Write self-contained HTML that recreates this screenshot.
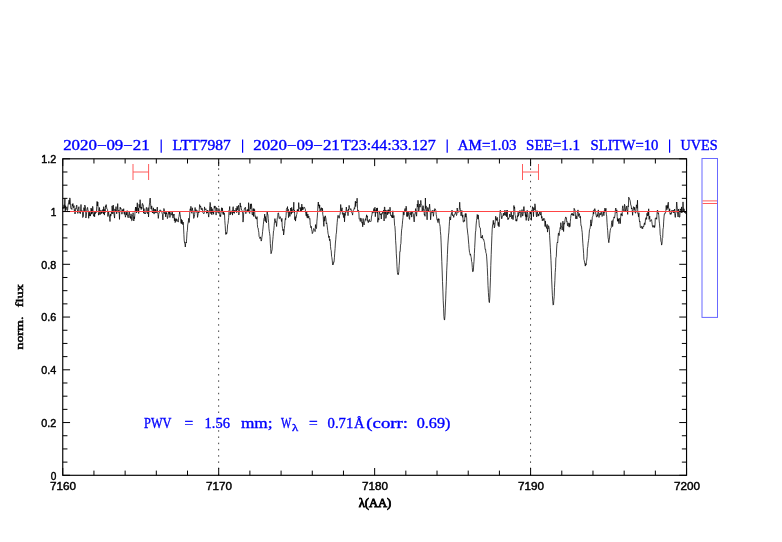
<!DOCTYPE html>
<html><head><meta charset="utf-8"><title>spectrum</title>
<style>
html,body{margin:0;padding:0;background:#fff;}
svg{display:block;font-family:"Liberation Serif",serif;will-change:transform;}
</style></head><body>
<svg width="782" height="542" viewBox="0 0 782 542">

<g stroke="#0000ff" stroke-width="0.35">
<text x="63.2" y="150.1" font-size="13.7" fill="#0000ff" textLength="86.5" lengthAdjust="spacingAndGlyphs" >2020−09−21</text>
<text x="172.6" y="150.1" font-size="13.7" fill="#0000ff" textLength="58.1" lengthAdjust="spacingAndGlyphs" >LTT7987</text>
<text x="253.2" y="150.1" font-size="13.7" fill="#0000ff" textLength="86.6" lengthAdjust="spacingAndGlyphs" >2020−09−21</text>
<text x="341.0" y="150.1" font-size="13.7" fill="#0000ff" textLength="94.8" lengthAdjust="spacingAndGlyphs" >T23:44:33.127</text>
<text x="457.8" y="150.1" font-size="13.7" fill="#0000ff" textLength="58.7" lengthAdjust="spacingAndGlyphs" >AM=1.03</text>
<text x="526.1" y="150.1" font-size="13.7" fill="#0000ff" textLength="53.8" lengthAdjust="spacingAndGlyphs" >SEE=1.1</text>
<text x="590.5" y="150.1" font-size="13.7" fill="#0000ff" textLength="67.9" lengthAdjust="spacingAndGlyphs" >SLITW=10</text>
<text x="680.5" y="150.1" font-size="13.7" fill="#0000ff" textLength="37.2" lengthAdjust="spacingAndGlyphs" >UVES</text>
</g>
<line x1="161.2" x2="161.2" y1="139.6" y2="152.8" stroke="#0000ff" stroke-width="1.2"/>
<line x1="242.6" x2="242.6" y1="139.6" y2="152.8" stroke="#0000ff" stroke-width="1.2"/>
<line x1="447.2" x2="447.2" y1="139.6" y2="152.8" stroke="#0000ff" stroke-width="1.2"/>
<line x1="669.6" x2="669.6" y1="139.6" y2="152.8" stroke="#0000ff" stroke-width="1.2"/>
<line x1="218.65" x2="218.65" y1="162.1" y2="475.3" stroke="#222" stroke-width="0.85" stroke-dasharray="1.5 4.735"/>
<line x1="530.55" x2="530.55" y1="162.1" y2="475.3" stroke="#222" stroke-width="0.85" stroke-dasharray="1.5 4.735"/>
<polyline points="62.8,209.0 63.1,207.1 63.5,208.4 63.8,205.4 64.2,204.7 64.5,208.3 64.9,198.5 65.2,211.9 65.6,205.7 65.9,209.9 66.3,207.7 66.6,207.7 67.0,206.8 67.3,210.6 67.7,209.7 68.0,205.9 68.4,203.2 68.7,203.3 69.1,200.1 69.4,204.3 69.8,197.9 70.1,199.1 70.5,205.2 70.8,208.1 71.2,209.0 71.5,208.6 71.9,209.5 72.2,204.3 72.6,205.9 72.9,203.5 73.3,207.1 73.6,207.7 74.0,205.6 74.3,210.7 74.7,209.7 75.0,214.0 75.4,211.5 75.7,208.4 76.1,208.9 76.4,206.0 76.8,205.1 77.1,209.1 77.5,210.0 77.8,213.4 78.2,209.6 78.5,208.9 78.9,206.7 79.2,212.4 79.6,212.3 79.9,211.4 80.3,213.7 80.6,211.1 81.0,204.5 81.3,211.6 81.7,211.1 82.0,210.5 82.4,211.3 82.7,217.5 83.1,217.1 83.4,216.3 83.8,207.7 84.1,207.9 84.5,210.8 84.8,205.0 85.2,206.8 85.5,206.8 85.9,218.0 86.2,216.1 86.6,212.4 86.9,210.0 87.3,207.9 87.6,207.4 88.0,210.8 88.3,210.8 88.7,218.3 89.0,214.6 89.4,212.1 89.7,216.0 90.1,213.4 90.4,216.1 90.8,213.3 91.1,208.0 91.5,214.1 91.8,209.1 92.2,213.5 92.5,206.5 92.9,206.5 93.2,213.6 93.6,216.1 93.9,216.2 94.3,212.6 94.6,216.8 95.0,211.2 95.3,213.7 95.7,212.5 96.0,211.8 96.4,212.4 96.7,206.6 97.1,201.4 97.4,206.1 97.8,202.0 98.1,206.5 98.5,215.2 98.8,213.6 99.2,214.4 99.5,207.5 99.9,213.8 100.2,214.6 100.6,212.7 100.9,210.1 101.3,213.7 101.6,211.9 102.0,213.0 102.3,210.5 102.7,212.2 103.0,209.3 103.4,214.0 103.7,206.7 104.1,211.1 104.4,215.1 104.8,209.4 105.1,212.6 105.5,205.8 105.8,207.0 106.2,204.6 106.5,206.7 106.9,209.0 107.2,209.2 107.6,209.5 107.9,216.5 108.3,212.9 108.6,211.4 109.0,215.5 109.3,215.5 109.7,218.6 110.0,221.5 110.4,214.0 110.7,216.2 111.1,214.9 111.4,212.3 111.8,213.5 112.1,205.9 112.5,210.0 112.8,213.9 113.2,205.0 113.5,209.0 113.9,213.3 114.2,215.7 114.6,218.1 114.9,208.9 115.3,210.9 115.6,211.6 116.0,206.6 116.3,209.7 116.7,213.8 117.0,211.4 117.4,209.2 117.7,203.6 118.1,211.1 118.4,212.3 118.8,210.2 119.1,211.8 119.5,219.4 119.8,210.6 120.2,207.1 120.5,208.8 120.9,208.1 121.2,210.1 121.6,212.2 121.9,214.2 122.3,212.7 122.6,209.5 123.0,211.3 123.3,211.6 123.7,208.7 124.0,213.1 124.4,214.4 124.7,211.7 125.1,214.3 125.4,217.2 125.8,215.7 126.1,212.3 126.5,215.0 126.8,211.9 127.2,210.6 127.5,216.1 127.9,217.0 128.2,217.8 128.6,214.9 128.9,213.3 129.3,211.0 129.6,215.1 130.0,217.8 130.3,216.4 130.7,218.6 131.0,213.8 131.4,216.4 131.7,220.7 132.1,220.4 132.4,216.1 132.8,214.7 133.1,212.7 133.5,218.1 133.8,221.0 134.2,216.7 134.5,218.8 134.9,213.8 135.2,210.5 135.6,207.0 135.9,211.5 136.3,207.3 136.6,213.0 137.0,207.2 137.3,202.8 137.7,210.1 138.0,211.8 138.4,208.2 138.7,213.5 139.1,204.3 139.4,205.9 139.8,207.6 140.1,199.7 140.5,208.0 140.8,207.7 141.2,209.6 141.5,207.0 141.9,208.5 142.2,203.6 142.6,203.5 142.9,205.5 143.3,205.2 143.6,213.2 144.0,208.6 144.3,212.2 144.7,213.9 145.0,213.4 145.4,214.0 145.7,213.2 146.1,208.9 146.4,207.4 146.8,209.1 147.1,212.9 147.5,213.6 147.8,210.9 148.2,207.6 148.5,217.0 148.9,211.7 149.2,206.1 149.6,202.9 149.9,198.7 150.3,198.0 150.6,203.8 151.0,209.0 151.3,209.2 151.7,205.9 152.0,208.7 152.4,212.9 152.7,211.8 153.1,212.8 153.4,207.8 153.8,212.8 154.1,214.1 154.5,211.6 154.8,209.0 155.2,212.5 155.5,209.5 155.9,213.1 156.2,210.9 156.6,212.4 156.9,209.5 157.3,207.1 157.6,212.2 158.0,214.6 158.3,218.4 158.7,214.7 159.0,212.7 159.4,212.6 159.7,210.7 160.1,209.8 160.4,211.9 160.8,210.7 161.1,210.7 161.5,211.4 161.8,212.3 162.2,213.7 162.5,214.7 162.9,219.9 163.2,213.8 163.6,211.1 163.9,208.5 164.3,209.6 164.6,213.7 165.0,213.8 165.3,212.7 165.7,216.9 166.0,211.0 166.4,213.9 166.7,212.9 167.1,215.6 167.4,218.6 167.8,217.5 168.1,215.3 168.5,212.0 168.8,211.5 169.2,214.3 169.5,212.0 169.9,217.5 170.2,215.8 170.6,215.2 170.9,212.4 171.3,214.6 171.6,214.5 172.0,215.3 172.3,212.1 172.7,215.8 173.0,218.1 173.4,214.5 173.7,215.3 174.1,214.1 174.4,220.8 174.8,217.9 175.1,222.6 175.5,222.0 175.8,218.9 176.2,221.3 176.5,218.8 176.9,219.0 177.2,220.1 177.6,221.0 177.9,221.7 178.3,222.1 178.6,217.7 179.0,216.7 179.3,214.3 179.7,212.0 180.0,214.1 180.4,216.2 180.7,219.0 181.1,223.4 181.4,219.3 181.8,223.7 182.1,220.2 182.5,223.5 182.8,224.6 183.2,222.1 183.5,225.9 183.9,234.6 184.2,240.2 184.6,243.2 184.9,243.3 185.3,247.0 185.6,243.9 186.0,242.0 186.3,243.0 186.7,238.1 187.0,232.4 187.4,230.5 187.7,224.9 188.1,223.0 188.4,220.8 188.8,218.2 189.1,222.5 189.5,218.7 189.8,212.0 190.2,208.8 190.5,210.4 190.9,206.3 191.2,208.3 191.6,212.8 191.9,213.3 192.3,207.8 192.6,210.2 193.0,210.6 193.3,212.9 193.7,218.4 194.0,217.6 194.4,216.6 194.7,214.3 195.1,207.5 195.4,211.9 195.8,212.0 196.1,209.6 196.5,212.3 196.8,211.7 197.2,210.6 197.5,217.4 197.9,215.3 198.2,213.6 198.6,211.4 198.9,212.8 199.3,209.4 199.6,204.6 200.0,205.9 200.3,207.1 200.7,206.2 201.0,209.0 201.4,209.8 201.7,208.1 202.1,208.1 202.4,208.9 202.8,212.5 203.1,212.8 203.5,213.4 203.8,213.9 204.2,213.0 204.5,206.9 204.9,209.1 205.2,209.8 205.6,209.3 205.9,208.7 206.3,210.4 206.6,213.3 207.0,211.1 207.3,213.0 207.7,210.0 208.0,211.4 208.4,214.7 208.7,217.1 209.1,213.1 209.4,211.6 209.8,205.3 210.1,202.4 210.5,203.8 210.8,213.6 211.2,207.0 211.5,213.0 211.9,214.8 212.2,208.7 212.6,212.3 212.9,213.0 213.3,211.3 213.6,214.3 214.0,209.6 214.3,205.9 214.7,208.2 215.0,206.5 215.4,206.4 215.7,207.6 216.1,215.1 216.4,207.6 216.8,208.7 217.1,208.2 217.5,211.8 217.8,212.5 218.2,212.7 218.5,210.1 218.9,208.5 219.2,209.2 219.6,211.5 219.9,216.4 220.3,214.9 220.6,216.7 221.0,212.5 221.3,210.0 221.7,207.7 222.0,212.3 222.4,208.2 222.7,211.3 223.1,214.4 223.4,211.5 223.8,214.5 224.1,212.8 224.5,213.7 224.8,220.5 225.2,225.6 225.5,231.2 225.9,234.5 226.2,232.5 226.6,233.9 226.9,233.2 227.3,229.9 227.6,224.8 228.0,223.6 228.3,220.8 228.7,217.4 229.0,210.2 229.4,209.7 229.7,206.5 230.1,215.0 230.4,212.2 230.8,213.6 231.1,212.8 231.5,212.9 231.8,212.7 232.2,210.5 232.5,215.1 232.9,207.9 233.2,206.7 233.6,212.8 233.9,210.9 234.3,213.4 234.6,210.3 235.0,211.4 235.3,210.5 235.7,210.5 236.0,208.2 236.4,209.3 236.7,212.7 237.1,206.2 237.4,209.8 237.8,207.4 238.1,207.1 238.5,205.3 238.8,215.0 239.2,212.5 239.5,211.5 239.9,207.3 240.2,202.9 240.6,206.9 240.9,205.9 241.3,209.0 241.6,210.0 242.0,210.2 242.3,211.5 242.7,213.9 243.0,222.1 243.4,218.9 243.7,212.5 244.1,210.5 244.4,208.5 244.8,208.8 245.1,207.6 245.5,207.2 245.8,213.7 246.2,211.3 246.5,211.3 246.9,211.3 247.2,209.7 247.6,212.1 247.9,209.3 248.3,211.3 248.6,202.7 249.0,211.4 249.3,212.6 249.7,213.5 250.0,208.3 250.4,203.9 250.7,209.0 251.1,206.2 251.4,203.8 251.8,208.3 252.1,214.2 252.5,215.1 252.8,213.4 253.2,208.7 253.5,216.4 253.9,208.6 254.2,211.9 254.6,209.5 254.9,216.3 255.3,215.8 255.6,218.4 256.0,217.6 256.3,218.0 256.7,219.2 257.0,216.6 257.4,224.6 257.7,227.6 258.1,227.9 258.4,230.2 258.8,232.3 259.1,236.4 259.5,237.4 259.8,238.5 260.2,238.1 260.5,236.9 260.9,239.2 261.2,241.1 261.6,239.8 261.9,237.2 262.3,234.9 262.6,231.6 263.0,228.0 263.3,224.8 263.7,221.1 264.0,218.4 264.4,217.9 264.7,214.1 265.1,221.1 265.4,216.5 265.8,221.6 266.1,221.1 266.5,222.9 266.8,217.4 267.2,211.6 267.5,214.4 267.9,214.3 268.2,218.3 268.6,222.6 268.9,228.2 269.3,231.5 269.6,233.3 270.0,236.4 270.3,243.4 270.7,248.7 271.0,253.7 271.4,252.9 271.7,251.2 272.1,249.8 272.4,244.0 272.8,239.8 273.1,236.6 273.5,230.9 273.8,230.4 274.2,225.4 274.5,221.4 274.9,218.6 275.2,220.0 275.6,222.4 275.9,221.4 276.3,223.5 276.6,226.5 277.0,221.4 277.3,217.7 277.7,217.4 278.0,213.2 278.4,212.8 278.7,214.1 279.1,218.5 279.4,218.7 279.8,217.6 280.1,216.6 280.5,218.1 280.8,218.7 281.2,219.4 281.5,221.5 281.9,218.4 282.2,226.0 282.6,228.7 282.9,230.6 283.3,229.3 283.6,235.0 284.0,232.5 284.3,228.3 284.7,225.6 285.0,221.1 285.4,218.4 285.7,219.6 286.1,215.3 286.4,209.4 286.8,208.5 287.1,209.0 287.5,206.6 287.8,212.3 288.2,209.2 288.5,217.6 288.9,215.9 289.2,211.4 289.6,213.9 289.9,216.4 290.3,212.3 290.6,208.0 291.0,209.6 291.3,214.2 291.7,207.4 292.0,213.0 292.4,211.5 292.7,210.2 293.1,209.3 293.4,210.2 293.8,202.2 294.1,212.6 294.5,210.2 294.8,219.7 295.2,216.6 295.5,221.1 295.9,217.4 296.2,217.7 296.6,214.6 296.9,214.2 297.3,209.6 297.6,211.3 298.0,209.4 298.3,211.3 298.7,202.6 299.0,207.1 299.4,207.6 299.7,208.5 300.1,207.8 300.4,211.3 300.8,207.5 301.1,207.3 301.5,210.8 301.8,204.1 302.2,210.1 302.5,207.0 302.9,209.7 303.2,209.4 303.6,209.1 303.9,207.0 304.3,207.3 304.6,207.4 305.0,208.6 305.3,209.1 305.7,213.3 306.0,215.8 306.4,216.1 306.7,212.0 307.1,217.4 307.4,218.1 307.8,214.0 308.1,215.8 308.5,217.7 308.8,216.1 309.2,218.9 309.5,219.1 309.9,218.6 310.2,224.4 310.6,225.8 310.9,227.7 311.3,226.4 311.6,229.5 312.0,231.2 312.3,233.6 312.7,232.9 313.0,231.9 313.4,229.6 313.7,228.5 314.1,229.4 314.4,230.0 314.8,230.2 315.1,231.6 315.5,224.6 315.8,227.8 316.2,228.3 316.5,228.5 316.9,221.2 317.2,218.1 317.6,212.7 317.9,206.0 318.3,202.0 318.6,206.1 319.0,204.5 319.3,208.3 319.7,205.1 320.0,212.0 320.4,209.7 320.7,208.7 321.1,209.5 321.4,207.7 321.8,210.0 322.1,211.4 322.5,208.3 322.8,214.8 323.2,216.2 323.5,222.3 323.9,226.4 324.2,216.7 324.6,221.0 324.9,221.2 325.3,215.8 325.6,217.1 326.0,218.9 326.3,223.8 326.7,222.8 327.0,224.6 327.4,228.0 327.7,230.4 328.1,233.9 328.4,234.8 328.8,237.6 329.1,236.0 329.5,240.6 329.8,239.1 330.2,240.9 330.5,246.3 330.9,249.8 331.2,250.5 331.6,256.5 331.9,257.7 332.3,260.9 332.6,264.9 333.0,264.3 333.3,264.6 333.7,262.0 334.0,262.3 334.4,257.8 334.7,253.2 335.1,248.4 335.4,243.0 335.8,239.2 336.1,234.6 336.5,232.1 336.8,226.9 337.2,222.4 337.5,218.6 337.9,215.4 338.2,215.4 338.6,217.1 338.9,218.3 339.3,218.1 339.6,215.3 340.0,214.3 340.3,212.7 340.7,204.5 341.0,208.4 341.4,211.0 341.7,209.5 342.1,207.8 342.4,213.8 342.8,214.5 343.1,212.8 343.5,217.3 343.8,217.7 344.2,212.8 344.5,221.8 344.9,214.3 345.2,215.4 345.6,212.1 345.9,212.3 346.3,207.0 346.6,209.2 347.0,212.2 347.3,210.8 347.7,210.6 348.0,215.7 348.4,209.1 348.7,210.2 349.1,205.4 349.4,207.4 349.8,208.6 350.1,209.6 350.5,209.7 350.8,208.6 351.2,209.5 351.5,212.3 351.9,212.9 352.2,213.4 352.6,215.1 352.9,212.2 353.3,210.3 353.6,209.8 354.0,209.8 354.3,207.7 354.7,208.7 355.0,205.3 355.4,201.2 355.7,206.6 356.1,201.9 356.4,202.6 356.8,203.0 357.1,198.2 357.5,208.3 357.8,211.9 358.2,210.2 358.5,210.6 358.9,213.2 359.2,219.2 359.6,218.9 359.9,219.3 360.3,221.5 360.6,218.1 361.0,218.0 361.3,218.9 361.7,222.2 362.0,223.2 362.4,222.2 362.7,226.8 363.1,218.5 363.4,222.3 363.8,223.9 364.1,225.0 364.5,222.3 364.8,221.4 365.2,219.6 365.5,218.7 365.9,220.4 366.2,217.4 366.6,214.8 366.9,217.4 367.3,215.9 367.6,221.2 368.0,220.6 368.3,222.7 368.7,220.7 369.0,220.4 369.4,219.4 369.7,221.7 370.1,221.2 370.4,221.5 370.8,221.6 371.1,221.3 371.5,216.1 371.8,216.1 372.2,212.6 372.5,211.3 372.9,213.2 373.2,212.6 373.6,209.8 373.9,208.5 374.3,212.4 374.6,208.6 375.0,207.2 375.3,216.7 375.7,211.4 376.0,209.8 376.4,211.9 376.7,208.1 377.1,213.2 377.4,207.9 377.8,222.3 378.1,219.0 378.5,217.9 378.8,220.1 379.2,210.9 379.5,211.9 379.9,214.1 380.2,214.6 380.6,215.0 380.9,213.7 381.3,219.0 381.6,213.5 382.0,213.9 382.3,214.1 382.7,211.6 383.0,212.5 383.4,212.0 383.7,210.1 384.1,221.0 384.4,207.1 384.8,207.0 385.1,213.9 385.5,210.3 385.8,218.4 386.2,217.0 386.5,214.2 386.9,210.2 387.2,209.9 387.6,214.8 387.9,212.6 388.3,213.1 388.6,209.7 389.0,213.6 389.3,210.4 389.7,212.1 390.0,207.2 390.4,210.6 390.7,215.8 391.1,215.3 391.4,215.1 391.8,217.4 392.1,215.5 392.5,218.0 392.8,210.8 393.2,217.2 393.5,217.7 393.9,215.5 394.2,218.7 394.6,225.6 394.9,226.2 395.3,232.2 395.6,240.3 396.0,245.9 396.3,253.8 396.7,259.2 397.0,266.7 397.4,272.3 397.7,274.3 398.1,273.7 398.4,274.6 398.8,271.5 399.1,265.5 399.5,261.0 399.8,251.6 400.2,251.6 400.5,245.1 400.9,243.6 401.2,236.6 401.6,230.1 401.9,228.3 402.3,224.7 402.6,220.8 403.0,217.8 403.3,211.9 403.7,214.5 404.0,215.1 404.4,212.3 404.7,209.6 405.1,208.5 405.4,210.8 405.8,209.5 406.1,206.2 406.5,207.7 406.8,216.5 407.2,212.3 407.5,216.5 407.9,214.1 408.2,211.4 408.6,215.3 408.9,215.2 409.3,218.9 409.6,219.4 410.0,212.5 410.3,214.6 410.7,214.5 411.0,211.4 411.4,211.4 411.7,217.1 412.1,212.2 412.4,212.5 412.8,212.3 413.1,213.7 413.5,214.2 413.8,219.3 414.2,221.9 414.5,218.1 414.9,213.7 415.2,213.8 415.6,208.6 415.9,210.6 416.3,214.9 416.6,216.2 417.0,209.6 417.3,204.0 417.7,206.9 418.0,200.3 418.4,205.1 418.7,211.1 419.1,209.8 419.4,205.4 419.8,204.0 420.1,207.2 420.5,202.7 420.8,200.4 421.2,203.6 421.5,204.5 421.9,204.9 422.2,212.0 422.6,207.9 422.9,206.3 423.3,205.8 423.6,210.3 424.0,209.6 424.3,215.0 424.7,214.4 425.0,216.3 425.4,198.0 425.7,208.5 426.1,205.9 426.4,209.0 426.8,214.2 427.1,219.8 427.5,209.1 427.8,207.4 428.2,209.8 428.5,211.0 428.9,208.3 429.2,208.6 429.6,204.1 429.9,208.2 430.3,212.6 430.6,219.8 431.0,215.5 431.3,211.6 431.7,210.8 432.0,212.8 432.4,212.7 432.7,210.3 433.1,213.2 433.4,216.3 433.8,213.3 434.1,209.9 434.5,210.8 434.8,208.6 435.2,209.7 435.5,209.4 435.9,210.8 436.2,214.6 436.6,216.8 436.9,219.5 437.3,220.3 437.6,219.4 438.0,222.6 438.3,218.6 438.7,220.2 439.0,218.8 439.4,223.8 439.7,224.4 440.1,226.6 440.4,231.6 440.8,235.4 441.1,242.1 441.5,253.1 441.8,261.3 442.2,272.0 442.5,281.5 442.9,291.1 443.2,300.2 443.6,308.2 443.9,316.4 444.3,319.8 444.6,320.0 445.0,315.4 445.3,307.9 445.7,298.9 446.0,290.4 446.4,281.2 446.7,270.8 447.1,262.6 447.4,254.7 447.8,245.1 448.1,241.0 448.5,235.1 448.8,232.9 449.2,226.3 449.5,221.2 449.9,216.8 450.2,218.5 450.6,220.0 450.9,216.1 451.3,213.7 451.6,214.3 452.0,210.1 452.3,213.2 452.7,215.8 453.0,214.8 453.4,215.6 453.7,217.4 454.1,215.7 454.4,214.2 454.8,214.1 455.1,213.8 455.5,211.4 455.8,212.2 456.2,214.9 456.5,215.5 456.9,214.1 457.2,208.0 457.6,212.2 457.9,212.3 458.3,211.4 458.6,212.3 459.0,210.5 459.3,209.5 459.7,202.2 460.0,207.4 460.4,209.5 460.7,212.7 461.1,215.9 461.4,213.8 461.8,210.4 462.1,214.5 462.5,217.3 462.8,214.8 463.2,221.9 463.5,222.0 463.9,222.0 464.2,220.1 464.6,221.2 464.9,216.0 465.3,213.6 465.6,217.2 466.0,213.5 466.3,215.8 466.7,217.9 467.0,227.1 467.4,230.0 467.7,233.1 468.1,235.8 468.4,240.0 468.8,244.5 469.1,248.7 469.5,252.3 469.8,252.9 470.2,255.2 470.5,254.2 470.9,256.3 471.2,257.4 471.6,261.6 471.9,261.9 472.3,267.6 472.6,271.6 473.0,271.7 473.3,271.3 473.7,264.9 474.0,261.2 474.4,253.3 474.7,247.6 475.1,240.0 475.4,232.9 475.8,230.3 476.1,225.0 476.5,220.7 476.8,218.6 477.2,214.5 477.5,215.0 477.9,219.1 478.2,214.9 478.6,219.2 478.9,220.4 479.3,225.8 479.6,227.2 480.0,227.9 480.3,228.0 480.7,233.1 481.0,237.9 481.4,236.8 481.7,238.1 482.1,236.7 482.4,235.3 482.8,238.9 483.1,239.4 483.5,239.1 483.8,240.0 484.2,241.6 484.5,242.6 484.9,247.1 485.2,249.6 485.6,249.3 485.9,252.8 486.3,253.6 486.6,256.1 487.0,262.0 487.3,267.7 487.7,276.6 488.0,285.6 488.4,292.6 488.7,297.6 489.1,301.9 489.4,302.6 489.8,297.0 490.1,288.1 490.5,277.3 490.8,265.6 491.2,254.7 491.5,246.1 491.9,235.7 492.2,229.2 492.6,224.9 492.9,223.8 493.3,220.3 493.6,224.4 494.0,222.8 494.3,227.9 494.7,226.8 495.0,224.2 495.4,219.5 495.7,216.2 496.1,219.9 496.4,218.7 496.8,220.6 497.1,217.3 497.5,218.2 497.8,221.9 498.2,225.7 498.5,222.4 498.9,226.8 499.2,226.6 499.6,218.4 499.9,213.7 500.3,210.2 500.6,212.4 501.0,213.0 501.3,215.7 501.7,218.8 502.0,217.9 502.4,216.0 502.7,215.7 503.1,214.9 503.4,213.2 503.8,215.8 504.1,213.5 504.5,214.7 504.8,210.3 505.2,214.0 505.5,215.5 505.9,213.0 506.2,210.4 506.6,216.8 506.9,213.9 507.3,210.1 507.6,218.2 508.0,219.8 508.3,218.0 508.7,218.8 509.0,217.2 509.4,217.2 509.7,214.0 510.1,216.0 510.4,216.9 510.8,215.6 511.1,211.3 511.5,214.0 511.8,218.8 512.2,215.1 512.5,215.6 512.9,219.6 513.2,219.5 513.6,214.2 513.9,205.5 514.3,208.5 514.6,207.0 515.0,214.6 515.3,215.5 515.7,218.3 516.0,221.1 516.4,219.4 516.7,221.2 517.1,219.6 517.4,215.6 517.8,217.0 518.1,212.3 518.5,215.8 518.8,215.0 519.2,212.2 519.5,212.7 519.9,210.4 520.2,210.7 520.6,213.7 520.9,217.4 521.3,214.4 521.6,214.2 522.0,209.6 522.3,213.3 522.7,216.1 523.0,214.8 523.4,211.7 523.7,206.8 524.1,206.5 524.4,212.4 524.8,213.0 525.1,213.4 525.5,216.5 525.8,212.0 526.2,220.4 526.5,214.7 526.9,217.0 527.2,210.3 527.6,212.8 527.9,213.7 528.3,220.3 528.6,220.8 529.0,218.3 529.3,217.6 529.7,217.6 530.0,211.6 530.4,213.9 530.7,212.2 531.1,213.6 531.4,220.3 531.8,210.4 532.1,211.9 532.5,206.7 532.8,208.3 533.2,208.1 533.5,216.6 533.9,207.6 534.2,210.0 534.6,208.5 534.9,203.8 535.3,205.8 535.6,210.5 536.0,211.3 536.3,215.3 536.7,216.9 537.0,210.6 537.4,211.0 537.7,214.5 538.1,216.2 538.4,214.0 538.8,215.8 539.1,214.7 539.5,212.2 539.8,213.6 540.2,214.0 540.5,215.1 540.9,211.6 541.2,213.1 541.6,218.2 541.9,216.4 542.3,220.8 542.6,219.5 543.0,218.8 543.3,220.5 543.7,218.3 544.0,218.7 544.4,218.7 544.7,219.7 545.1,226.5 545.4,221.0 545.8,226.2 546.1,225.9 546.5,228.4 546.8,226.9 547.2,224.4 547.5,232.1 547.9,228.0 548.2,228.6 548.6,225.7 548.9,226.7 549.3,229.3 549.6,235.3 550.0,242.1 550.3,247.2 550.7,254.7 551.0,260.7 551.4,270.1 551.7,279.9 552.1,289.2 552.4,295.7 552.8,301.7 553.1,305.1 553.5,304.7 553.8,300.7 554.2,296.7 554.5,287.5 554.9,280.4 555.2,272.7 555.6,267.4 555.9,257.9 556.3,256.8 556.6,249.0 557.0,243.5 557.3,242.2 557.7,242.9 558.0,238.1 558.4,233.2 558.7,233.0 559.1,235.6 559.4,231.1 559.8,230.9 560.1,227.6 560.5,228.7 560.8,222.7 561.2,226.5 561.5,226.3 561.9,228.2 562.2,230.1 562.6,226.9 562.9,221.2 563.3,225.4 563.6,231.5 564.0,223.2 564.3,224.2 564.7,223.2 565.0,220.0 565.4,217.9 565.7,216.9 566.1,218.1 566.4,217.8 566.8,222.0 567.1,221.6 567.5,225.8 567.8,225.8 568.2,222.8 568.5,224.6 568.9,226.7 569.2,227.2 569.6,223.3 569.9,226.6 570.3,221.8 570.6,218.5 571.0,215.1 571.3,214.2 571.7,215.0 572.0,213.0 572.4,214.1 572.7,215.4 573.1,214.1 573.4,214.0 573.8,215.8 574.1,208.3 574.5,209.6 574.8,209.5 575.2,211.3 575.5,216.6 575.9,218.9 576.2,215.8 576.6,216.5 576.9,218.9 577.3,213.4 577.6,211.5 578.0,209.9 578.3,212.8 578.7,216.4 579.0,215.0 579.4,213.6 579.7,215.6 580.1,218.0 580.4,216.3 580.8,223.3 581.1,226.2 581.5,226.2 581.8,229.6 582.2,232.3 582.5,237.9 582.9,243.8 583.2,247.7 583.6,253.3 583.9,259.5 584.3,260.7 584.6,262.8 585.0,264.2 585.3,266.1 585.7,263.6 586.0,265.1 586.4,261.5 586.7,260.2 587.1,256.7 587.4,248.8 587.8,246.7 588.1,243.0 588.5,240.6 588.8,238.3 589.2,233.2 589.5,229.6 589.9,229.1 590.2,227.6 590.6,223.6 590.9,219.8 591.3,226.1 591.6,223.7 592.0,221.5 592.3,217.2 592.7,216.4 593.0,215.7 593.4,210.6 593.7,214.1 594.1,209.8 594.4,210.5 594.8,208.6 595.1,210.0 595.5,210.7 595.8,214.1 596.2,215.5 596.5,217.0 596.9,217.1 597.2,214.5 597.6,216.2 597.9,212.3 598.3,209.9 598.6,212.0 599.0,217.5 599.3,214.8 599.7,215.1 600.0,213.1 600.4,214.9 600.7,214.7 601.1,211.9 601.4,212.3 601.8,215.2 602.1,216.5 602.5,215.5 602.8,213.9 603.2,211.0 603.5,211.9 603.9,215.7 604.2,210.8 604.6,212.4 604.9,208.1 605.3,211.2 605.6,209.8 606.0,208.4 606.3,214.1 606.7,216.1 607.0,222.3 607.4,227.6 607.7,230.8 608.1,237.8 608.4,239.3 608.8,242.7 609.1,240.2 609.5,238.0 609.8,233.8 610.2,230.8 610.5,228.8 610.9,228.1 611.2,227.8 611.6,222.2 611.9,220.8 612.3,220.6 612.6,226.6 613.0,223.5 613.3,219.0 613.7,218.6 614.0,216.9 614.4,218.1 614.7,217.1 615.1,214.3 615.4,209.8 615.8,208.0 616.1,210.9 616.5,212.7 616.8,209.8 617.2,216.7 617.5,221.2 617.9,218.3 618.2,221.3 618.6,219.1 618.9,223.7 619.3,218.9 619.6,218.3 620.0,219.6 620.3,223.6 620.7,216.6 621.0,213.6 621.4,215.0 621.7,213.7 622.1,216.1 622.4,208.4 622.8,205.8 623.1,208.2 623.5,210.4 623.8,210.2 624.2,211.0 624.5,204.3 624.9,205.6 625.2,208.1 625.6,211.4 625.9,210.1 626.3,207.4 626.6,206.2 627.0,210.5 627.3,210.2 627.7,214.4 628.0,205.8 628.4,206.7 628.7,197.2 629.1,198.3 629.4,198.4 629.8,199.9 630.1,200.5 630.5,203.0 630.8,205.4 631.2,205.5 631.5,209.0 631.9,207.9 632.2,209.9 632.6,215.3 632.9,211.8 633.3,208.9 633.6,206.7 634.0,207.0 634.3,209.7 634.7,207.4 635.0,211.9 635.4,213.2 635.7,213.1 636.1,208.9 636.4,204.8 636.8,206.3 637.1,208.3 637.5,200.2 637.8,213.8 638.2,214.0 638.5,216.8 638.9,212.7 639.2,218.8 639.6,222.0 639.9,221.4 640.3,227.3 640.6,227.6 641.0,227.8 641.3,226.4 641.7,226.2 642.0,228.5 642.4,227.4 642.7,228.7 643.1,226.0 643.4,226.4 643.8,226.6 644.1,224.2 644.5,222.8 644.8,224.8 645.2,222.9 645.5,219.0 645.9,217.8 646.2,217.5 646.6,219.4 646.9,213.4 647.3,214.7 647.6,215.9 648.0,211.1 648.3,215.6 648.7,208.8 649.0,219.3 649.4,218.4 649.7,216.1 650.1,221.6 650.4,221.3 650.8,220.4 651.1,220.0 651.5,219.6 651.8,221.4 652.2,224.4 652.5,226.4 652.9,227.3 653.2,225.5 653.6,226.2 653.9,227.2 654.3,225.5 654.6,227.5 655.0,225.5 655.3,218.1 655.7,218.4 656.0,217.6 656.4,217.9 656.7,219.3 657.1,212.9 657.4,210.0 657.8,210.9 658.1,213.7 658.5,212.9 658.8,215.7 659.2,221.1 659.5,223.8 659.9,228.6 660.2,234.7 660.6,236.3 660.9,241.2 661.3,242.2 661.6,245.1 662.0,243.6 662.3,238.2 662.7,237.6 663.0,229.1 663.4,227.5 663.7,221.1 664.1,216.1 664.4,213.7 664.8,213.8 665.1,213.8 665.5,211.7 665.8,212.1 666.2,205.5 666.5,208.6 666.9,209.8 667.2,205.3 667.6,208.4 667.9,203.9 668.3,202.2 668.6,208.0 669.0,209.1 669.3,211.2 669.7,208.8 670.0,214.3 670.4,214.3 670.7,213.0 671.1,214.3 671.4,213.2 671.8,210.1 672.1,210.5 672.5,210.5 672.8,210.6 673.2,212.5 673.5,210.3 673.9,212.9 674.2,210.6 674.6,209.0 674.9,215.2 675.3,217.4 675.6,213.6 676.0,212.3 676.3,208.9 676.7,202.0 677.0,205.2 677.4,209.9 677.7,214.1 678.1,217.0 678.4,209.0 678.8,212.3 679.1,215.1 679.5,217.3 679.8,216.9 680.2,208.8 680.5,210.0 680.9,209.1 681.2,212.6 681.6,206.9 681.9,212.8 682.3,211.7 682.6,208.9 683.0,201.9 683.3,206.1 683.7,211.4 684.0,208.8 684.4,212.6 684.7,211.8 685.1,212.4 685.4,211.6 685.8,213.7 686.1,213.4 686.5,214.2" fill="none" stroke="#000" stroke-width="0.75" stroke-linejoin="round"/>
<line x1="62.75" x2="686.55" y1="211.5" y2="211.5" stroke="#ff4444" stroke-width="1"/>
<path d="M133.0,164v16M148.6,164v16M133.0,172H148.6" stroke="#ff5c5c" stroke-width="1" fill="none"/>
<path d="M522.5,164v16M538.5,164v16M522.5,172H538.5" stroke="#ff5c5c" stroke-width="1" fill="none"/>
<rect x="62.75" y="158.8" width="623.8" height="316.5" fill="none" stroke="#000" stroke-width="1.15"/>
<path d="M62.75,475.3v-7.3M62.75,158.8v7.3M93.94,475.3v-4.7M93.94,158.8v4.7M125.13,475.3v-4.7M125.13,158.8v4.7M156.32,475.3v-4.7M156.32,158.8v4.7M187.51,475.3v-4.7M187.51,158.8v4.7M218.70,475.3v-7.3M218.70,158.8v7.3M249.89,475.3v-4.7M249.89,158.8v4.7M281.08,475.3v-4.7M281.08,158.8v4.7M312.27,475.3v-4.7M312.27,158.8v4.7M343.46,475.3v-4.7M343.46,158.8v4.7M374.65,475.3v-7.3M374.65,158.8v7.3M405.84,475.3v-4.7M405.84,158.8v4.7M437.03,475.3v-4.7M437.03,158.8v4.7M468.22,475.3v-4.7M468.22,158.8v4.7M499.41,475.3v-4.7M499.41,158.8v4.7M530.60,475.3v-7.3M530.60,158.8v7.3M561.79,475.3v-4.7M561.79,158.8v4.7M592.98,475.3v-4.7M592.98,158.8v4.7M624.17,475.3v-4.7M624.17,158.8v4.7M655.36,475.3v-4.7M655.36,158.8v4.7M686.55,475.3v-7.3M686.55,158.8v7.3M62.75,475.30h7.3M686.55,475.30h-7.3M62.75,462.11h4.7M686.55,462.11h-4.7M62.75,448.93h4.7M686.55,448.93h-4.7M62.75,435.74h4.7M686.55,435.74h-4.7M62.75,422.55h7.3M686.55,422.55h-7.3M62.75,409.36h4.7M686.55,409.36h-4.7M62.75,396.18h4.7M686.55,396.18h-4.7M62.75,382.99h4.7M686.55,382.99h-4.7M62.75,369.80h7.3M686.55,369.80h-7.3M62.75,356.61h4.7M686.55,356.61h-4.7M62.75,343.43h4.7M686.55,343.43h-4.7M62.75,330.24h4.7M686.55,330.24h-4.7M62.75,317.05h7.3M686.55,317.05h-7.3M62.75,303.86h4.7M686.55,303.86h-4.7M62.75,290.68h4.7M686.55,290.68h-4.7M62.75,277.49h4.7M686.55,277.49h-4.7M62.75,264.30h7.3M686.55,264.30h-7.3M62.75,251.11h4.7M686.55,251.11h-4.7M62.75,237.93h4.7M686.55,237.93h-4.7M62.75,224.74h4.7M686.55,224.74h-4.7M62.75,211.55h7.3M686.55,211.55h-7.3M62.75,198.36h4.7M686.55,198.36h-4.7M62.75,185.18h4.7M686.55,185.18h-4.7M62.75,171.99h4.7M686.55,171.99h-4.7M62.75,158.80h7.3M686.55,158.80h-7.3" stroke="#000" stroke-width="1.0" fill="none"/>
<rect x="702" y="158.5" width="15.5" height="158.9" fill="none" stroke="#6868ff" stroke-width="1"/>
<path d="M702.5,200.9H717M702.5,203.5H717" stroke="#ff5c5c" stroke-width="1" fill="none"/>
<g stroke="#000" stroke-width="0.45" font-family="Liberation Sans, sans-serif">
<text x="56.3" y="163.1" font-size="11.3" text-anchor="end" textLength="15.0" lengthAdjust="spacingAndGlyphs">1.2</text>
<text x="56.3" y="215.9" font-size="11.3" text-anchor="end" textLength="5.6" lengthAdjust="spacingAndGlyphs">1</text>
<text x="56.3" y="268.6" font-size="11.3" text-anchor="end" textLength="15.0" lengthAdjust="spacingAndGlyphs">0.8</text>
<text x="56.3" y="321.4" font-size="11.3" text-anchor="end" textLength="15.0" lengthAdjust="spacingAndGlyphs">0.6</text>
<text x="56.3" y="374.1" font-size="11.3" text-anchor="end" textLength="15.0" lengthAdjust="spacingAndGlyphs">0.4</text>
<text x="56.3" y="426.9" font-size="11.3" text-anchor="end" textLength="15.0" lengthAdjust="spacingAndGlyphs">0.2</text>
<text x="56.3" y="479.6" font-size="11.3" text-anchor="end" textLength="5.6" lengthAdjust="spacingAndGlyphs">0</text>
<text x="63.1" y="490.3" font-size="11.3" fill="#000" text-anchor="middle" textLength="26" lengthAdjust="spacingAndGlyphs" >7160</text>
<text x="219.1" y="490.3" font-size="11.3" fill="#000" text-anchor="middle" textLength="26" lengthAdjust="spacingAndGlyphs" >7170</text>
<text x="375.0" y="490.3" font-size="11.3" fill="#000" text-anchor="middle" textLength="26" lengthAdjust="spacingAndGlyphs" >7180</text>
<text x="531.0" y="490.3" font-size="11.3" fill="#000" text-anchor="middle" textLength="26" lengthAdjust="spacingAndGlyphs" >7190</text>
<text x="686.9" y="490.3" font-size="11.3" fill="#000" text-anchor="middle" textLength="26" lengthAdjust="spacingAndGlyphs" >7200</text>
<text x="375" y="506.7" font-size="11.5" fill="#000" text-anchor="middle" textLength="32.6" lengthAdjust="spacingAndGlyphs" stroke-width="0.8" font-family="Liberation Serif, serif">λ(AA)</text>
<g font-size="11" stroke-width="0.5" font-family="Liberation Serif, serif" style="font-variant-ligatures:none"><text transform="translate(23.2,349.6) rotate(-90)" textLength="33.0" lengthAdjust="spacingAndGlyphs">norm.</text><text transform="translate(23.2,307.3) rotate(-90)" textLength="23.2" lengthAdjust="spacingAndGlyphs">flux</text></g>
</g>
<g stroke="#0000ff" stroke-width="0.35">
<text x="144.1" y="427.9" font-size="14" fill="#0000ff" textLength="27.4" lengthAdjust="spacingAndGlyphs" >PWV</text>
<text x="184.6" y="427.9" font-size="14" fill="#0000ff" textLength="8.7" lengthAdjust="spacingAndGlyphs" >=</text>
<text x="204.6" y="427.9" font-size="14" fill="#0000ff" textLength="25.4" lengthAdjust="spacingAndGlyphs" >1.56</text>
<text x="240.9" y="427.9" font-size="14" fill="#0000ff" textLength="31.7" lengthAdjust="spacingAndGlyphs" >mm;</text>
<text x="281.1" y="427.9" font-size="14" fill="#0000ff" textLength="10.4" lengthAdjust="spacingAndGlyphs" >W</text>
<text x="309.1" y="427.9" font-size="14" fill="#0000ff" textLength="8.7" lengthAdjust="spacingAndGlyphs" >=</text>
<text x="327.6" y="427.9" font-size="14" fill="#0000ff" textLength="25.7" lengthAdjust="spacingAndGlyphs" >0.71</text>
<text x="354.1" y="427.9" font-size="14" fill="#0000ff" textLength="10.5" lengthAdjust="spacingAndGlyphs" >Å</text>
<text x="366.3" y="427.9" font-size="14" fill="#0000ff" textLength="41.7" lengthAdjust="spacingAndGlyphs" >(corr:</text>
<text x="416.7" y="427.9" font-size="14" fill="#0000ff" textLength="33.7" lengthAdjust="spacingAndGlyphs" >0.69)</text>
<text x="292.0" y="431.3" font-size="10.5" fill="#0000ff" textLength="6.2" lengthAdjust="spacingAndGlyphs" >λ</text>
</g>
</svg></body></html>
